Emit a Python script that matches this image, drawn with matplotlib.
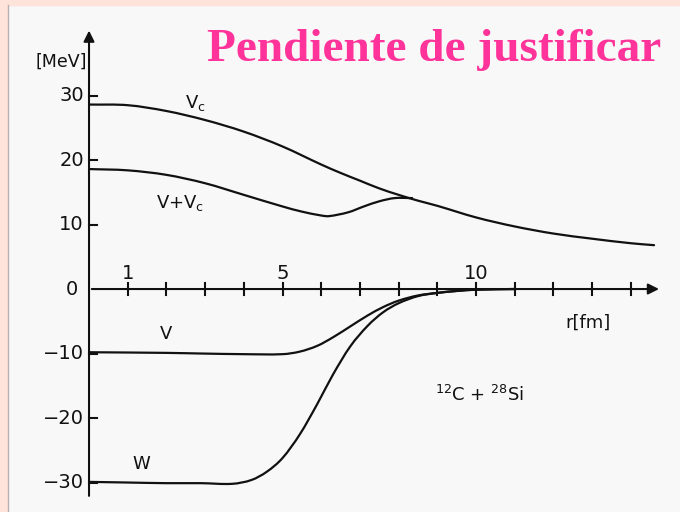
import numpy as np
import matplotlib
matplotlib.use("Agg")
import matplotlib.pyplot as plt
from matplotlib.patches import Rectangle, PathPatch
from matplotlib.path import Path

# potential curves for 12C + 28Si, read at radius r [fm], values in MeV
r_vc = [0, 1, 2, 3, 4, 5, 6, 6.5, 7, 7.5, 8, 8.5, 9, 10, 11, 12, 13, 14, 14.6]
vc = [28.6, 28.5, 27.6, 26.2, 24.4, 22.1, 19.3, 18.0, 16.8, 15.6, 14.6, 13.7, 12.9, 11.1, 9.7, 8.6, 7.8, 7.1, 6.8]

r_vvc = [0, 1, 2, 3, 4, 5, 5.5, 6, 6.2, 6.7, 7.1, 7.5, 7.9, 8.35]
vvc = [18.6, 18.4, 17.7, 16.4, 14.6, 12.8, 12.0, 11.4, 11.3, 11.9, 12.8, 13.6, 14.1, 14.1]

r_v = [0, 2, 2.9, 4, 5, 5.45, 5.9, 6.3, 6.75, 7.2, 7.6, 8.0, 8.5, 9, 9.5, 10, 11]
v = [-9.8, -9.9, -10.0, -10.1, -10.1, -9.7, -8.8, -7.5, -5.8, -4.1, -2.8, -1.8, -1.0, -0.6, -0.3, -0.1, 0.0]

r_w = [0, 1, 2, 2.9, 3.7, 4.2, 4.6, 5.0, 5.45, 5.9, 6.3, 6.75, 7.2, 7.6, 8.0, 8.5, 9.0, 9.5, 10, 11]
w = [-29.9, -30.0, -30.1, -30.1, -30.2, -29.6, -28.3, -26.2, -22.5, -17.8, -13.3, -8.9, -5.7, -3.6, -2.2, -1.1, -0.6, -0.3, -0.1, 0.0]

y_ticks = [30, 20, 10, -10, -20, -30]
x_ticks = list(range(1, 15))
x_labels = {1: "1", 5: "5", 10: "10"}

ink = "#111111"


def smooth_path(xs, ys):
    # cubic Hermite through the points, slopes from neighbouring points
    x = np.asarray(xs, float)
    y = np.asarray(ys, float)
    n = len(x)
    m = np.empty(n)
    m[0] = (y[1] - y[0]) / (x[1] - x[0])
    m[-1] = (y[-1] - y[-2]) / (x[-1] - x[-2])
    m[1:-1] = (y[2:] - y[:-2]) / (x[2:] - x[:-2])
    verts = [(x[0], y[0])]
    codes = [Path.MOVETO]
    for i in range(n - 1):
        d = (x[i + 1] - x[i]) / 3.0
        verts += [(x[i] + d, y[i] + m[i] * d),
                  (x[i + 1] - d, y[i + 1] - m[i + 1] * d),
                  (x[i + 1], y[i + 1])]
        codes += [Path.CURVE4] * 3
    return Path(verts, codes)


fig = plt.figure(figsize=(6.8, 5.12), dpi=100)
fig.patch.set_facecolor("#f8f8f8")
ax = fig.add_axes([0, 0, 1, 1])
ax.set_xlim(-2.30, 15.27)
ax.set_ylim(-34.57, 44.81)
ax.axis("off")

# paper edge
fig.patches.append(Rectangle((0, 0), 7 / 680, 1, transform=fig.transFigure,
                             color="#fde3da", zorder=0))
fig.patches.append(Rectangle((0, 1 - 5 / 512), 1, 5 / 512, transform=fig.transFigure,
                             color="#fde3da", zorder=0))
fig.lines.append(plt.Line2D([7.5 / 680, 7.5 / 680], [0, 1 - 5 / 512],
                            transform=fig.transFigure, color="#b8b0ae", lw=1))

# axes with arrows
ax.annotate("", xy=(0, 40.5), xytext=(0, -32.5),
            arrowprops=dict(arrowstyle="-|>", color=ink, lw=1.5, mutation_scale=16))
ax.annotate("", xy=(14.8, 0), xytext=(0, 0),
            arrowprops=dict(arrowstyle="-|>", color=ink, lw=1.5, mutation_scale=16))

for yt in y_ticks:
    ax.plot([0, 0.2], [yt, yt], color=ink, lw=1.5)
    ax.text(-0.13, yt, str(yt).replace("-", "\u2212"), ha="right", va="center",
            fontsize=14, color=ink)
ax.text(-0.45, 0, "0", ha="center", va="center", fontsize=14, color=ink)

for xt in x_ticks:
    ax.plot([xt, xt], [-0.9, 0.9], color=ink, lw=1.5)
    if xt in x_labels:
        ax.text(xt, 2.4, x_labels[xt], ha="center", va="center", fontsize=14, color=ink)

ax.text(-0.05, 35.2, "[MeV]", ha="right", va="center", fontsize=12.5, color=ink)
ax.text(12.9, -5.3, "r[fm]", ha="center", va="center", fontsize=13, color=ink)

# curves
for rr, vv in [(r_vc, vc), (r_vvc, vvc), (r_v, v), (r_w, w)]:
    ax.add_patch(PathPatch(smooth_path(rr, vv), fill=False, edgecolor=ink, lw=1.6,
                           capstyle="round", joinstyle="round"))

ax.text(2.75, 28.8, "V$_\\mathregular{c}$", ha="center", va="center", fontsize=13, color=ink)
ax.text(2.35, 13.3, "V+V$_\\mathregular{c}$", ha="center", va="center", fontsize=13, color=ink)
ax.text(2.0, -7.0, "V", ha="center", va="center", fontsize=13, color=ink)
ax.text(1.35, -27.2, "W", ha="center", va="center", fontsize=13, color=ink)
ax.text(10.1, -16.5, "$^\\mathregular{12}$C + $^\\mathregular{28}$Si", ha="center",
        va="center", fontsize=13, color=ink)

fig.text(434 / 680, 1 - 50 / 512, "Pendiente de justificar", ha="center", va="center",
         fontsize=34, fontweight="bold", family="Liberation Serif", color="#ff3399")

fig.savefig("out.png", dpi=100, facecolor=fig.get_facecolor())
